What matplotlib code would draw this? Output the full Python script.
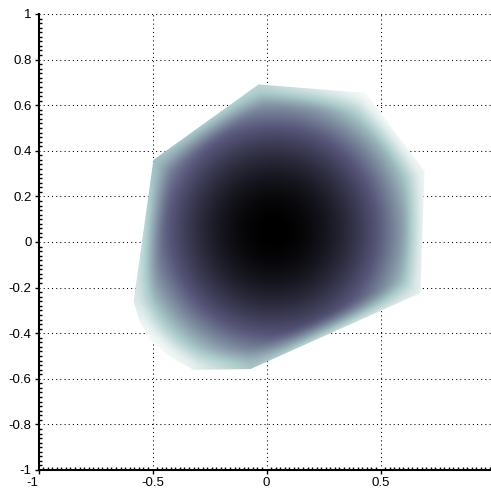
import numpy as np
import matplotlib
matplotlib.use("Agg")
import matplotlib.pyplot as plt
from matplotlib.patches import Polygon
from matplotlib.colors import LinearSegmentedColormap
from matplotlib.ticker import MultipleLocator

# outline of the shaded region (data units)
hull_x = [-0.035, 0.434, 0.693, 0.675, -0.070, -0.320, -0.421, -0.509, -0.553, -0.583, -0.496]
hull_y = [0.691, 0.654, 0.311, -0.224, -0.557, -0.561, -0.504, -0.430, -0.355, -0.263, 0.360]

# darkest point and distance at which the shading turns white
peak_x, peak_y = 0.03, 0.05
fade_radius = 0.72
fade_power = 2.0
edge_band = 0.10   # width over which the edge colour takes over

x_ticks = [-1, -0.5, 0, 0.5]
y_ticks = [-1, -0.8, -0.6, -0.4, -0.2, 0, 0.2, 0.4, 0.6, 0.8, 1]

shade_pos = [0.0, 0.4, 0.75, 1.0]
shade_col = ['#000000', '#57567a', '#a9c9c9', '#f4f8f8']


def radial(px, py):
    r = np.hypot(px - peak_x, py - peak_y)
    return np.clip((r / fade_radius) ** fade_power, 0, 1)


plt.rcParams['font.family'] = ['Liberation Sans', 'DejaVu Sans']
plt.rcParams['axes.unicode_minus'] = False

fig = plt.figure(figsize=(4.91, 4.88), dpi=100)
ax = fig.add_axes([38.5 / 491, 18 / 488, 456 / 491, 456 / 488])

cmap = LinearSegmentedColormap.from_list('shade', list(zip(shade_pos, shade_col)))

# radial shading; along the outline the colour runs straight between the
# corner values, and that edge colour fades into the radial one inwards
g = np.linspace(-1, 1, 700)
X, Y = np.meshgrid(g, g)
hx, hy = np.array(hull_x), np.array(hull_y)
corner_val = radial(hx, hy)
best_d = np.full(X.shape, np.inf)
edge_val = np.zeros(X.shape)
for i in range(len(hx)):
    j = (i + 1) % len(hx)
    dx, dy = hx[j] - hx[i], hy[j] - hy[i]
    t = np.clip(((X - hx[i]) * dx + (Y - hy[i]) * dy) / (dx * dx + dy * dy), 0, 1)
    d = np.hypot(X - hx[i] - t * dx, Y - hy[i] - t * dy)
    closer = d < best_d
    best_d = np.where(closer, d, best_d)
    edge_val = np.where(closer, corner_val[i] * (1 - t) + corner_val[j] * t, edge_val)
w = np.clip(1 - best_d / edge_band, 0, 1) ** 2
val = radial(X, Y) * (1 - w) + np.maximum(edge_val, radial(X, Y)) * w

outline = Polygon(np.column_stack([hull_x, hull_y]), closed=True,
                  facecolor='none', edgecolor='none', transform=ax.transData)
ax.add_patch(outline)
im = ax.imshow(val, extent=(-1, 1, -1, 1), origin='lower', cmap=cmap,
               vmin=0, vmax=1, interpolation='bilinear', zorder=1, aspect='auto')
im.set_clip_path(outline)

ax.set_xlim(-1, 1)
ax.set_ylim(-1, 1)
ax.set_xticks(x_ticks)
ax.set_yticks(y_ticks)
ax.set_xticklabels(['%g' % t for t in x_ticks])
ax.set_yticklabels(['%g' % t for t in y_ticks])
ax.xaxis.set_minor_locator(MultipleLocator(0.02))
ax.yaxis.set_minor_locator(MultipleLocator(0.02))
ax.tick_params(which='major', direction='out', length=3, width=1,
               labelsize=9.5, colors='black')
ax.tick_params(axis='x', which='major', pad=2)
ax.tick_params(axis='y', which='major', pad=2)
ax.tick_params(which='minor', direction='in', length=2.5, width=1)
ax.get_xticklabels()[0].set_horizontalalignment('right')

# x grid line at 1 falls just outside the picture, as in the original
ax.set_axisbelow(True)
ax.grid(True, which='major', color='black', linestyle=(0, (1, 3)), linewidth=0.75)

for side in ['top', 'right']:
    ax.spines[side].set_visible(False)
for side in ['left', 'bottom']:
    ax.spines[side].set_linewidth(1.5)

fig.savefig('out.png', dpi=100)
